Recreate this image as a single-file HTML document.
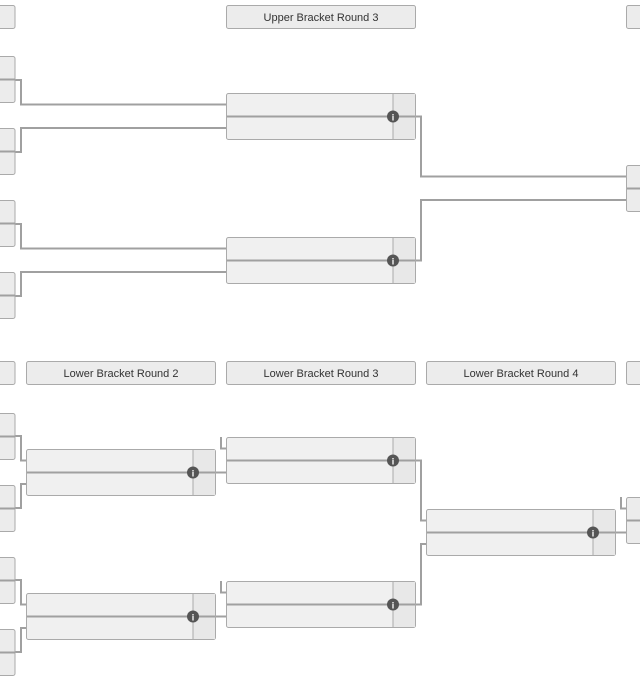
<!DOCTYPE html>
<html><head><meta charset="utf-8"><style>
html,body{margin:0;padding:0;background:#fff;}
svg{display:block;}
text{font-family:"Liberation Sans",sans-serif;font-size:11px;fill:#333;}
</style></head><body>
<svg width="640" height="681" viewBox="0 0 640 681" xmlns="http://www.w3.org/2000/svg">
<defs>
<g id="m">
  <rect x="0.5" y="0.5" width="189" height="46" rx="2" fill="#f0f0f0" stroke="#aaa"/>
  <rect x="167" y="1" width="22" height="45" fill="#e8e8e8"/>
  <line x1="167" y1="1" x2="167" y2="46" stroke="#aaa"/>
  <line x1="1" y1="23.5" x2="189" y2="23.5" stroke="#a0a0a0" stroke-width="2"/>
  <circle cx="167" cy="23.5" r="6" fill="#555"/>
  <text x="167" y="27.5" text-anchor="middle" style="font-size:9px;font-weight:bold;fill:#fff">i</text>
</g>
<g id="p">
  <rect x="-10" y="0.5" width="25" height="46" rx="2" fill="#ececec" stroke="#aaa"/>
  <line x1="0" y1="23.5" x2="15" y2="23.5" stroke="#a0a0a0" stroke-width="2"/>
</g>
<g id="pr">
  <rect x="626.5" y="0.5" width="30" height="46" rx="2" fill="#ececec" stroke="#aaa"/>
  <line x1="627" y1="23.5" x2="640" y2="23.5" stroke="#a0a0a0" stroke-width="2"/>
</g>
</defs>
<g fill="none" stroke="#a0a0a0" stroke-width="2">
<path d="M15 80H21V104.5H226"/>
<path d="M15 152H21V128H226"/>
<path d="M15 224H21V248.5H226"/>
<path d="M15 296H21V272H226"/>
<path d="M415 116.5H421V176.5H626"/>
<path d="M415 260.5H421V200H626"/>
<path d="M15 436H21V460.5H26"/>
<path d="M15 508H21V484H26"/>
<path d="M15 580H21V604.5H26"/>
<path d="M15 652H21V628H26"/>
<path d="M215 472.5H226"/>
<path d="M215 616.5H226"/>
<path d="M221 437V448.5H226"/>
<path d="M221 581V592.5H226"/>
<path d="M415 460.5H421V520.5H426"/>
<path d="M415 604.5H421V544H426"/>
<path d="M615 532.5H626"/>
<path d="M621 497V508.5H626"/>
</g>
<rect x="-10" y="5.5" width="25" height="23" rx="2" fill="#ececec" stroke="#aaa"/>
<rect x="226.5" y="5.5" width="189" height="23" rx="2" fill="#ececec" stroke="#aaa"/>
<text x="321" y="21" text-anchor="middle">Upper Bracket Round 3</text>
<rect x="626.5" y="5.5" width="30" height="23" rx="2" fill="#ececec" stroke="#aaa"/>

<rect x="-10" y="361.5" width="25" height="23" rx="2" fill="#ececec" stroke="#aaa"/>
<rect x="26.5" y="361.5" width="189" height="23" rx="2" fill="#ececec" stroke="#aaa"/>
<text x="121" y="377" text-anchor="middle">Lower Bracket Round 2</text>
<rect x="226.5" y="361.5" width="189" height="23" rx="2" fill="#ececec" stroke="#aaa"/>
<text x="321" y="377" text-anchor="middle">Lower Bracket Round 3</text>
<rect x="426.5" y="361.5" width="189" height="23" rx="2" fill="#ececec" stroke="#aaa"/>
<text x="521" y="377" text-anchor="middle">Lower Bracket Round 4</text>
<rect x="626.5" y="361.5" width="30" height="23" rx="2" fill="#ececec" stroke="#aaa"/>

<use href="#p" y="56"/><use href="#p" y="128"/><use href="#p" y="200"/><use href="#p" y="272"/>
<use href="#p" y="413"/><use href="#p" y="485"/><use href="#p" y="557"/><use href="#p" y="629"/>
<use href="#pr" y="165"/><use href="#pr" y="497"/>

<use href="#m" x="226" y="93"/>
<use href="#m" x="226" y="237"/>
<use href="#m" x="26" y="449"/>
<use href="#m" x="26" y="593"/>
<use href="#m" x="226" y="437"/>
<use href="#m" x="226" y="581"/>
<use href="#m" x="426" y="509"/>
</svg>
</body></html>
